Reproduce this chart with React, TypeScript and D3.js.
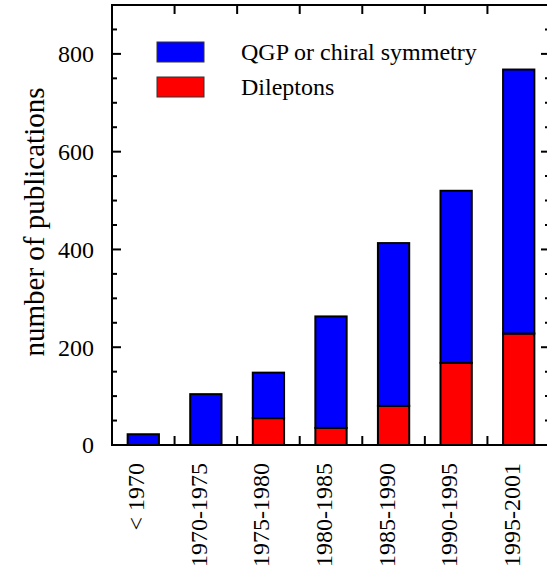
import * as d3 from "d3";
import React, { useEffect, useRef } from "react";

// publication periods
const periods = ["< 1970", "1970-1975", "1975-1980", "1980-1985", "1985-1990", "1990-1995", "1995-2001"];
// papers on dileptons (red, bottom)
const dileptons = [0, 0, 55, 35, 80, 168, 228];
// papers on QGP or chiral symmetry (blue, stacked on top)
const qgpChiral = [22, 104, 93, 228, 333, 352, 540];
const yTicks = [0, 200, 400, 600, 800];

const W = 547;
const H = 571;
const FONT = "Liberation Serif, DejaVu Serif, serif";

const App = (): JSX.Element => {
	const svgRef = useRef<SVGSVGElement>(null);

	useEffect(() => {
		const margin = { top: 5, right: -3, bottom: 126, left: 112 };
		const x0 = margin.left,
			x1 = W - margin.right,
			y0 = margin.top,
			y1 = H - margin.bottom;

		const svg = d3.select(svgRef.current);
		svg.selectAll("*").remove();
		const g = svg.append("g").style("font-family", FONT);

		const x = d3.scaleBand<string>().domain(periods).range([x0, x1]).paddingInner(0).paddingOuter(0);
		const y = d3.scaleLinear().domain([0, 900]).range([y1, y0]);

		const rows = periods.map((p, i) => ({ period: p, dileptons: dileptons[i], qgp: qgpChiral[i] }));
		const series = d3.stack<any>().keys(["dileptons", "qgp"])(rows);
		const colors: Record<string, string> = { dileptons: "#ff0000", qgp: "#0000ff" };

		const bw = x.bandwidth() * 0.5;
		// bars
		series.forEach((s) => {
			g.append("g")
				.selectAll("rect")
				.data(s.filter((d) => d[1] - d[0] > 0))
				.join("rect")
				.attr("x", (d) => x(d.data.period)! + (x.bandwidth() - bw) / 2)
				.attr("y", (d) => y(d[1]))
				.attr("width", bw)
				.attr("height", (d) => y(d[0]) - y(d[1]))
				.attr("fill", colors[s.key])
				.attr("stroke", "#000")
				.attr("stroke-width", 2);
		});

		// frame
		g.append("rect")
			.attr("x", x0)
			.attr("y", y0)
			.attr("width", x1 - x0)
			.attr("height", y1 - y0)
			.attr("fill", "none")
			.attr("stroke", "#000")
			.attr("stroke-width", 2);

		// category boundary ticks (bottom and top, inward)
		const bounds = periods.slice(1).map((p) => x(p)!);
		bounds.forEach((bx) => {
			g.append("line").attr("x1", bx).attr("x2", bx).attr("y1", y1).attr("y2", y1 - 9).attr("stroke", "#000").attr("stroke-width", 2);
			g.append("line").attr("x1", bx).attr("x2", bx).attr("y1", y0).attr("y2", y0 + 9).attr("stroke", "#000").attr("stroke-width", 2);
		});

		// y ticks: major every 200, minor every 50
		const minor = d3.range(0, 901, 50).filter((v) => v % 200 !== 0);
		[...yTicks.map((v) => ({ v, len: 9 })), ...minor.map((v) => ({ v, len: 5 }))].forEach(({ v, len }) => {
			if (v === 0) return;
			g.append("line").attr("x1", x0).attr("x2", x0 + len).attr("y1", y(v)).attr("y2", y(v)).attr("stroke", "#000").attr("stroke-width", 2);
			g.append("line").attr("x1", x1).attr("x2", x1 - len).attr("y1", y(v)).attr("y2", y(v)).attr("stroke", "#000").attr("stroke-width", 2);
		});

		// y tick labels
		g.selectAll("text.ytick")
			.data(yTicks)
			.join("text")
			.attr("class", "ytick")
			.attr("x", x0 - 18)
			.attr("y", (d) => y(d))
			.attr("dy", "0.35em")
			.attr("text-anchor", "end")
			.attr("font-size", 24)
			.text((d) => d);

		// x tick labels
		g.selectAll("text.xtick")
			.data(periods)
			.join("text")
			.attr("class", "xtick")
			.attr("transform", (d) => `translate(${x(d)! + x.bandwidth() / 2 + 1},${y1 + 18}) rotate(-90)`)
			.attr("text-anchor", "end")
			.attr("font-size", 24)
			.text((d) => d);

		// y axis label
		g.append("text")
			.attr("transform", `translate(44,222) rotate(-90)`)
			.attr("text-anchor", "middle")
			.attr("font-size", 29)
			.text("number of publications");

		// legend
		const legend = [
			{ label: "QGP or chiral symmetry", color: colors.qgp },
			{ label: "Dileptons", color: colors.dileptons },
		];
		legend.forEach((l, i) => {
			const ly = 42 + i * 35;
			g.append("rect").attr("x", 157).attr("y", ly).attr("width", 47).attr("height", 20).attr("fill", l.color).attr("stroke", "#333").attr("stroke-width", 1);
			g.append("text")
				.attr("x", 241)
				.attr("y", ly + 10)
				.attr("dy", "0.35em")
				.attr("font-size", 24)
				.text(l.label);
		});

		return () => {
			svg.selectAll("*").remove();
		};
	}, []);

	return <svg ref={svgRef} width={W} height={H} style={{ position: "absolute", left: 0, top: 0, background: "#fff" }} />;
};

export default App;
